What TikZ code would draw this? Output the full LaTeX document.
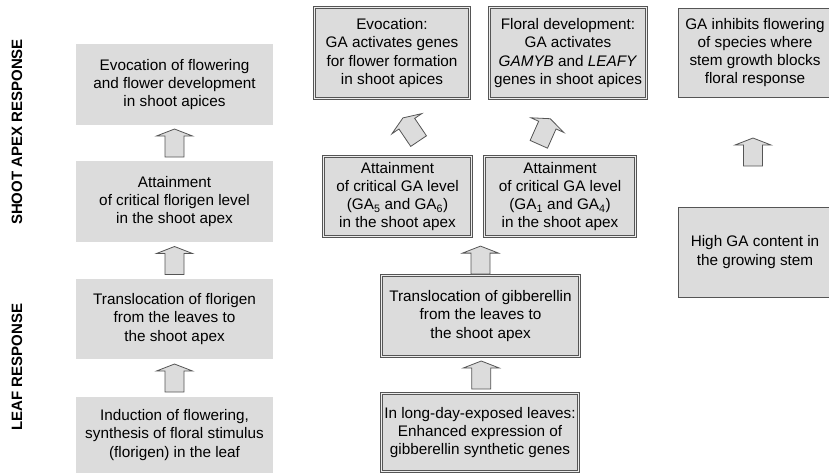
\documentclass[tikz,border=0pt]{standalone}
\usepackage{fontspec}
\setmainfont{Liberation Sans}
\usetikzlibrary{calc}
\definecolor{boxfill}{HTML}{DCDCDC}
\definecolor{edge}{HTML}{555555}
\definecolor{gapcol}{HTML}{EDEDED}
\begin{document}
\begin{tikzpicture}[x=1pt,y=-1pt,
  base/.style={inner sep=0pt, align=center, font=\fontsize{15.3}{18.3}\selectfont, fill=boxfill},
  plainbox/.style={base},
  dblbox/.style={base, draw=edge, line width=0.8pt, double=gapcol, double distance=1.4pt},
  thinbox/.style={base, draw=edge, line width=1pt},
  sidelabel/.style={rotate=90, font=\fontsize{15}{18}\selectfont\bfseries},
  pics/uparrow/.style={code={\draw[fill=boxfill, draw=edge, line width=0.8pt, line join=miter]
     (-9.5,14) -- (-9.5,-7) -- (-18,-7) -- (0,-14) -- (18,-7) -- (9.5,-7) -- (9.5,14) -- cycle;}}
]
\useasboundingbox (0,0) rectangle (829,475);

% side labels
\node[sidelabel] (sa) at (17,132) {SHOOT APEX RESPONSE};
\node[sidelabel] (lr) at (17,367) {LEAF RESPONSE};

% left column
\node[plainbox, minimum width=197, minimum height=81] (L1) at (174.5,84.5)
  {Evocation of flowering\\and flower development\\in shoot apices};
\node[plainbox, minimum width=197, minimum height=81] (L2) at (174.5,201.5)
  {Attainment\\of critical florigen level\\in the shoot apex};
\node[plainbox, minimum width=197, minimum height=80] (L3) at (174.5,319)
  {Translocation of florigen\\from the leaves to\\the shoot apex};
\node[plainbox, minimum width=197, minimum height=76] (L4) at (174.5,435)
  {Induction of flowering,\\synthesis of floral stimulus\\(florigen) in the leaf};

% middle column
\node[dblbox, minimum width=155, minimum height=91] (Mev) at (392,53)
  {Evocation:\\GA activates genes\\for flower formation\\in shoot apices};
\node[dblbox, minimum width=157, minimum height=91] (Mfd) at (568,53)
  {Floral development:\\GA activates\\\textit{GAMYB} and \textit{LEAFY}\\genes in shoot apices};
\node[dblbox, minimum width=148, minimum height=80] (Ma5) at (397.5,196.5)
  {Attainment\\of critical GA level\\(GA\textsubscript{5} and GA\textsubscript{6})\\in the shoot apex};
\node[dblbox, minimum width=151, minimum height=80] (Ma1) at (560,196.5)
  {Attainment\\of critical GA level\\(GA\textsubscript{1} and GA\textsubscript{4})\\in the shoot apex};
\node[dblbox, minimum width=198, minimum height=81] (Mtr) at (480.5,316)
  {Translocation of gibberellin\\from the leaves to\\the shoot apex};
\node[dblbox, minimum width=197, minimum height=78] (Mld) at (480,432.5)
  {In long-day-exposed leaves:\\Enhanced expression of\\gibberellin synthetic genes};

% right column
\node[thinbox, minimum width=154, minimum height=89] (R1) at (755,52.5)
  {GA inhibits flowering\\of species where\\stem growth blocks\\floral response};
\node[thinbox, minimum width=154, minimum height=90] (R2) at (755,252)
  {High GA content in\\the growing stem};

% arrows
\pic at ($(L2.north)!0.5!(L1.south)$) {uparrow};
\pic at ($(L3.north)!0.5!(L2.south)$) {uparrow};
\pic at ($(L4.north)!0.5!(L3.south)$) {uparrow};
\pic at ($(Mtr.north)+(0,-15)$) {uparrow};
\pic at ($(Mld.north)!0.5!(Mtr.south)+(1,0)$) {uparrow};
\pic at ($(R2.north)!0.5!(R1.south)+(-2,0)$) {uparrow};
\pic[rotate=34] at ($(Ma5.north)!0.5!(Mev.south)+(16,2)$) {uparrow};
\pic[rotate=-24] at ($(Ma1.north)!0.5!(Mfd.south)+(-19.5,4)$) {uparrow};
\end{tikzpicture}
\end{document}
